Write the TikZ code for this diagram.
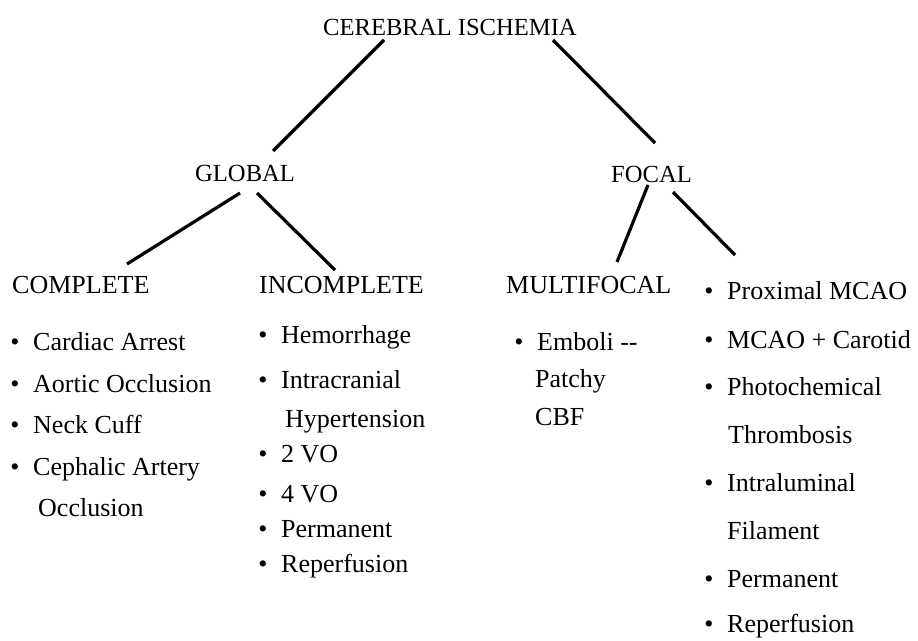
\documentclass[tikz,border=0pt]{standalone}
\usepackage{fontspec}
\setmainfont{Liberation Serif}
\newcommand\bodysize{\fontsize{26}{30}\selectfont}
\newcommand\headsize{\fontsize{24.6}{30}\selectfont}
\tikzset{
  txt/.style={inner sep=0pt, anchor=base west, font=\bodysize},
  head/.style={inner sep=0pt, anchor=base west, font=\headsize},
  bul/.style={inner sep=0pt, anchor=base, font=\bodysize},
  link/.style={line width=3.2pt, line cap=butt}
}
\newcommand\bitem[4]{\node[bul] (#1b) at (#2,#3) {\textbullet};\node[txt] (#1) at (#2+18,#3) {#4};}
\begin{document}
\begin{tikzpicture}[x=1pt,y=-1pt]
\useasboundingbox (0,0) rectangle (918,640);
% headings
\node[head] (root) at (323,35) {CEREBRAL ISCHEMIA};
\node[head] (global) at (195,181) {GLOBAL};
\node[head] (focal) at (611,182) {FOCAL};
\node[txt] (complete) at (12,293) {COMPLETE};
\node[txt] (incomplete) at (259,293) {INCOMPLETE};
\node[txt] (multifocal) at (506,293) {MULTIFOCAL};
% connector ends
\coordinate (r1) at (384,40);  \coordinate (g1) at (273,151);
\coordinate (r2) at (553,40);  \coordinate (f1) at (655,143);
\coordinate (g2) at (240,193); \coordinate (c1) at (127,264);
\coordinate (g3) at (257,193); \coordinate (i1) at (335,270);
\coordinate (f2) at (648,185); \coordinate (m1) at (617,262);
\coordinate (f3) at (673,192); \coordinate (p1) at (735,255);
\draw[link] (r1) -- (g1);
\draw[link] (r2) -- (f1);
\draw[link] (g2) -- (c1);
\draw[link] (g3) -- (i1);
\draw[link] (f2) -- (m1);
\draw[link] (f3) -- (p1);
% complete
\bitem{a1}{15}{350}{Cardiac Arrest}
\bitem{a2}{15}{392}{Aortic Occlusion}
\bitem{a3}{15}{433}{Neck Cuff}
\bitem{a4}{15}{475}{Cephalic Artery}
\node[txt] (a4b2) at (38,516) {Occlusion};
% incomplete
\bitem{b1}{263}{343}{Hemorrhage}
\bitem{b2}{263}{388}{Intracranial}
\node[txt] (b2b2) at (285,427) {Hypertension};
\bitem{b3}{263}{462}{2 VO}
\bitem{b4}{263}{502}{4 VO}
\bitem{b5}{263}{537}{Permanent}
\bitem{b6}{263}{572}{Reperfusion}
% multifocal
\bitem{c1t}{519}{350}{Emboli -{}-}
\node[txt] (c1t2) at (535,387) {Patchy};
\node[txt] (c1t3) at (535,425) {CBF};
% focal right
\bitem{d1}{709}{299}{Proximal MCAO}
\bitem{d2}{709}{348}{MCAO + Carotid}
\bitem{d3}{709}{395}{Photochemical}
\node[txt] (d3b2) at (728,443) {Thrombosis};
\bitem{d4}{709}{491}{Intraluminal}
\node[txt] (d4b2) at (727,539) {Filament};
\bitem{d5}{709}{587}{Permanent}
\bitem{d6}{709}{632}{Reperfusion}
\end{tikzpicture}
\end{document}
